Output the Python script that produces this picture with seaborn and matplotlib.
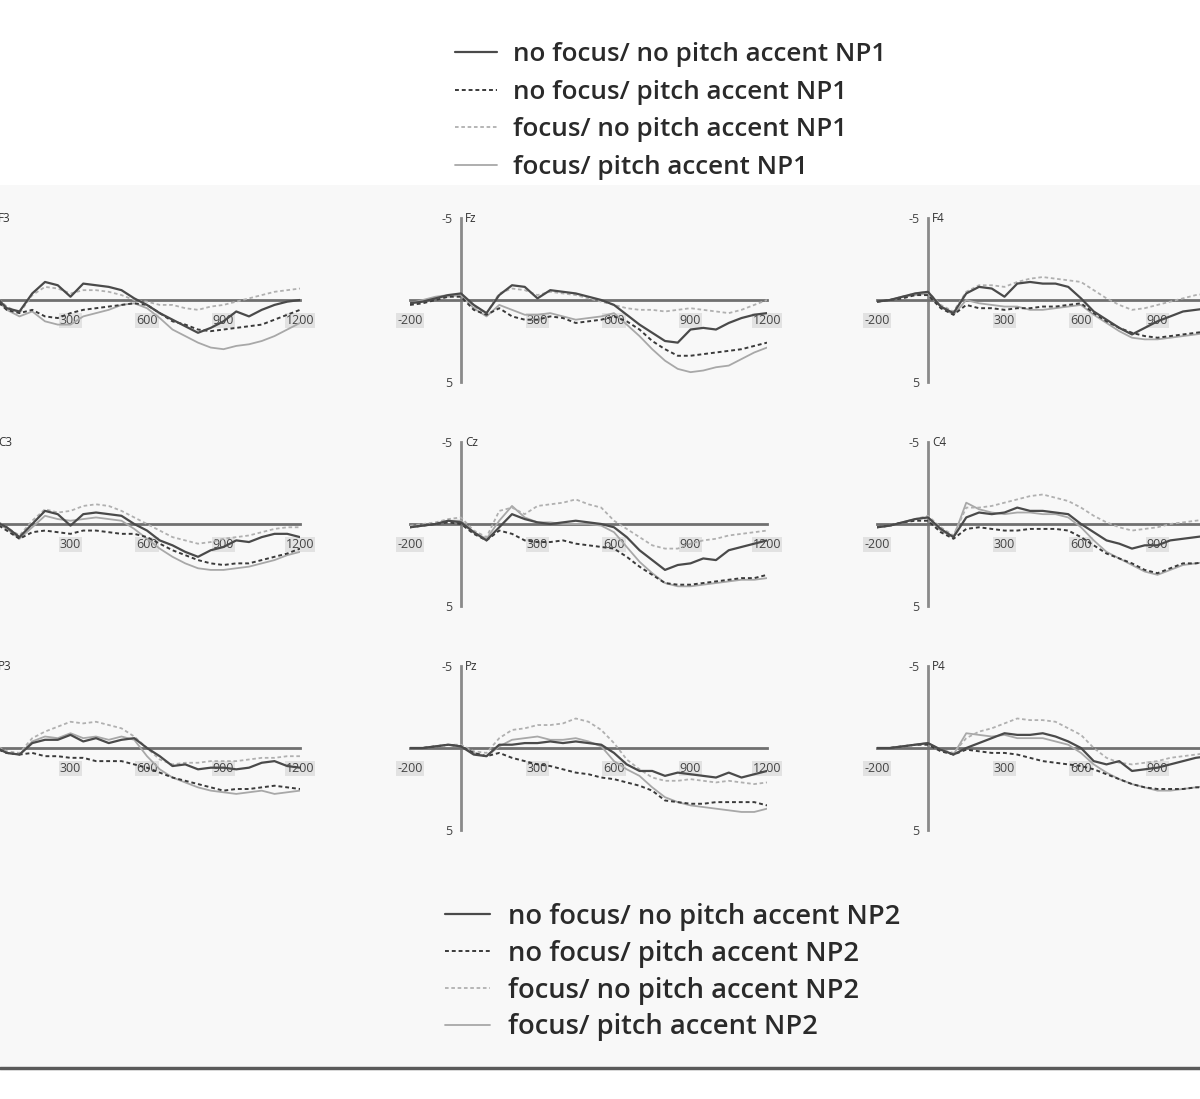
import numpy as np
import pandas as pd
import matplotlib
matplotlib.use("Agg")
import matplotlib.pyplot as plt
from matplotlib.lines import Line2D
from matplotlib.patches import Rectangle
import seaborn as sns

sns.set_theme(style="white")
plt.rcParams['font.family'] = ['Open Sans', 'DejaVu Sans']

# ---------------- data ----------------
times = [-200, -150, -100, -50, 0, 50, 100, 150, 200, 250, 300, 350, 400, 450,
         500, 550, 600, 650, 700, 750, 800, 850, 900, 950, 1000, 1050, 1100, 1150, 1200]

conditions = ["no focus/ no pitch accent", "no focus/ pitch accent",
              "focus/ no pitch accent", "focus/ pitch accent"]

electrodes = ["F3", "Fz", "F4", "C3", "Cz", "C4", "P3", "Pz", "P4"]

F3_s1 = [0.1,0.0,-0.1,-0.2,-0.3,0.5,0.7,-0.4,-1.1,-0.9,-0.2,-1.0,-0.9,-0.8,-0.6,-0.1,0.3,0.8,1.2,1.6,2.0,1.7,1.3,0.7,1.0,0.6,0.3,0.1,0.0]
F3_s2 = [0.2,0.1,0.0,-0.1,-0.1,0.6,0.8,0.6,1.0,1.1,0.8,0.6,0.5,0.4,0.3,0.2,0.3,0.8,1.3,1.5,1.8,1.9,1.8,1.7,1.6,1.5,1.2,0.9,0.6]
F3_s3 = [0.1,0.0,-0.1,-0.2,-0.3,0.4,0.8,-0.3,-0.8,-0.7,-0.4,-0.6,-0.6,-0.5,-0.3,0.0,0.1,0.3,0.3,0.5,0.6,0.4,0.3,0.1,-0.1,-0.3,-0.5,-0.6,-0.7]
F3_s4 = [0.2,0.1,-0.1,-0.2,-0.2,0.6,1.0,0.7,1.3,1.5,1.5,1.0,0.8,0.6,0.3,0.2,0.5,1.1,1.8,2.2,2.6,2.9,3.0,2.8,2.7,2.5,2.2,1.8,1.4]

Fz_s1 = [0.2,0.1,-0.1,-0.3,-0.4,0.3,0.8,-0.3,-0.9,-0.8,-0.1,-0.6,-0.5,-0.4,-0.2,0.0,0.3,0.9,1.5,2.0,2.5,2.6,1.8,1.7,1.8,1.4,1.1,0.9,0.8]
Fz_s2 = [0.3,0.2,0.0,-0.2,-0.2,0.6,0.9,0.5,1.0,1.2,1.2,1.0,1.1,1.4,1.3,1.2,1.0,1.3,1.8,2.5,3.0,3.4,3.4,3.3,3.2,3.1,3.0,2.8,2.6]
Fz_s3 = [0.2,0.1,-0.1,-0.2,-0.3,0.4,0.8,-0.4,-0.7,-0.6,-0.3,-0.5,-0.4,-0.3,-0.1,0.1,0.3,0.5,0.6,0.6,0.7,0.6,0.5,0.6,0.7,0.8,0.6,0.3,0.0]
Fz_s4 = [0.2,0.0,-0.2,-0.3,-0.3,0.5,1.0,0.3,0.6,0.9,0.9,0.8,1.0,1.2,1.1,1.0,0.8,1.5,2.2,3.0,3.7,4.2,4.4,4.3,4.1,4.0,3.6,3.2,2.9]

F4_s1 = [0.1,0.0,-0.2,-0.4,-0.5,0.4,0.8,-0.4,-0.8,-0.7,-0.2,-1.0,-1.1,-1.0,-1.0,-0.8,-0.1,0.7,1.2,1.7,2.1,1.7,1.3,1.0,0.7,0.6,0.5,0.4,0.3]
F4_s2 = [0.1,0.0,-0.1,-0.3,-0.3,0.5,0.9,0.3,0.5,0.5,0.6,0.5,0.5,0.4,0.4,0.3,0.2,0.8,1.3,1.7,2.0,2.2,2.3,2.2,2.1,2.0,1.9,1.8,1.7]
F4_s3 = [0.1,0.0,-0.2,-0.4,-0.5,0.3,0.7,-0.5,-0.9,-0.9,-0.8,-1.1,-1.3,-1.4,-1.3,-1.2,-1.1,-0.6,-0.1,0.3,0.6,0.5,0.3,0.1,-0.1,-0.3,-0.4,-0.5,-0.5]
F4_s4 = [0.1,0.0,-0.2,-0.3,-0.4,0.4,0.9,0.0,0.2,0.3,0.4,0.4,0.6,0.6,0.5,0.4,0.3,0.9,1.4,1.9,2.3,2.4,2.4,2.3,2.2,2.1,2.0,1.9,1.8]

C3_s1 = [0.1,0.0,-0.1,-0.2,-0.2,0.2,0.8,0.0,-0.8,-0.6,0.1,-0.6,-0.7,-0.6,-0.5,0.0,0.4,1.0,1.3,1.7,2.0,1.6,1.4,1.0,1.1,0.8,0.6,0.6,0.8]
C3_s2 = [0.1,0.0,0.0,-0.1,-0.1,0.4,0.9,0.5,0.4,0.5,0.6,0.4,0.4,0.5,0.6,0.6,0.8,1.2,1.6,1.9,2.2,2.4,2.5,2.4,2.4,2.2,2.0,1.8,1.5]
C3_s3 = [0.1,0.0,-0.1,-0.2,-0.3,0.2,0.7,-0.2,-0.9,-0.7,-0.8,-1.1,-1.2,-1.1,-0.8,-0.4,0.0,0.4,0.8,1.0,1.2,1.1,0.9,0.8,0.7,0.5,0.3,0.2,0.2]
C3_s4 = [0.1,0.0,-0.1,-0.2,-0.2,0.3,0.9,0.2,-0.5,-0.3,-0.2,-0.3,-0.4,-0.3,-0.2,0.3,0.9,1.5,2.0,2.4,2.7,2.8,2.8,2.7,2.6,2.4,2.2,1.9,1.7]

Cz_s1 = [0.2,0.1,0.0,-0.2,-0.1,0.5,1.0,0.2,-0.6,-0.3,-0.1,0.0,-0.1,-0.2,-0.1,0.0,0.2,0.8,1.6,2.2,2.8,2.5,2.4,2.1,2.2,1.6,1.4,1.2,1.0]
Cz_s2 = [0.2,0.1,0.0,-0.1,0.0,0.6,1.0,0.4,0.6,1.0,1.1,1.1,1.0,1.2,1.3,1.4,1.5,2.0,2.6,3.1,3.6,3.7,3.7,3.6,3.5,3.4,3.3,3.3,3.1]
Cz_s3 = [0.1,0.0,-0.1,-0.3,-0.4,0.4,0.8,-0.8,-1.0,-0.6,-1.1,-1.2,-1.3,-1.5,-1.2,-1.0,-0.2,0.3,0.8,1.3,1.5,1.5,1.2,1.0,0.9,0.7,0.6,0.5,0.4]
Cz_s4 = [0.2,0.1,0.0,-0.2,-0.2,0.5,0.9,-0.2,-1.1,-0.4,-0.1,-0.1,0.0,0.0,0.0,0.1,0.5,1.4,2.3,3.0,3.6,3.8,3.8,3.7,3.6,3.5,3.4,3.4,3.3]

C4_s1 = [0.2,0.1,-0.1,-0.3,-0.4,0.3,0.8,-0.4,-0.7,-0.6,-0.7,-1.0,-0.8,-0.8,-0.7,-0.6,0.0,0.5,1.0,1.2,1.5,1.3,1.3,1.0,0.9,0.8,0.7,0.6,0.6]
C4_s2 = [0.2,0.1,-0.1,-0.2,-0.2,0.5,0.9,0.3,0.2,0.3,0.4,0.4,0.3,0.3,0.3,0.4,0.8,1.3,1.8,2.1,2.4,2.8,3.0,2.7,2.4,2.4,2.3,2.2,2.1]
C4_s3 = [0.2,0.1,-0.1,-0.3,-0.5,0.2,0.7,-1.0,-1.0,-1.1,-1.3,-1.5,-1.7,-1.8,-1.6,-1.4,-1.0,-0.5,-0.1,0.2,0.4,0.3,0.2,0.0,-0.1,-0.2,-0.3,-0.3,-0.3]
C4_s4 = [0.2,0.1,-0.1,-0.3,-0.4,0.4,0.8,-1.3,-0.9,-0.7,-0.6,-0.7,-0.7,-0.6,-0.6,-0.4,0.2,1.0,1.7,2.1,2.5,2.9,3.1,2.8,2.5,2.4,2.3,2.2,2.1]

P3_s1 = [0.0,0.0,-0.1,-0.2,-0.1,0.3,0.4,-0.3,-0.5,-0.5,-0.8,-0.4,-0.6,-0.3,-0.5,-0.6,0.0,0.5,1.1,1.0,1.3,1.2,1.2,1.3,1.2,0.9,0.8,1.1,1.2]
P3_s2 = [0.0,0.0,-0.1,-0.1,0.0,0.3,0.4,0.3,0.5,0.5,0.6,0.6,0.8,0.8,0.8,1.0,1.2,1.5,1.8,2.0,2.2,2.4,2.6,2.5,2.5,2.4,2.3,2.4,2.5]
P3_s3 = [0.0,0.0,-0.1,-0.2,-0.2,0.2,0.3,-0.6,-1.0,-1.3,-1.6,-1.5,-1.6,-1.4,-1.2,-0.7,0.0,0.7,1.0,0.9,0.9,0.8,0.8,0.8,0.7,0.6,0.6,0.5,0.5]
P3_s4 = [0.0,0.0,-0.1,-0.2,-0.1,0.3,0.4,-0.4,-0.7,-0.6,-0.9,-0.6,-0.7,-0.5,-0.7,-0.5,0.5,1.3,1.8,2.1,2.4,2.6,2.7,2.8,2.7,2.6,2.8,2.7,2.6]

Pz_s1 = [0.0,0.0,-0.1,-0.2,-0.1,0.4,0.5,-0.2,-0.2,-0.3,-0.3,-0.4,-0.3,-0.4,-0.3,-0.2,0.3,1.0,1.4,1.4,1.7,1.5,1.6,1.7,1.8,1.5,1.8,1.6,1.4]
Pz_s2 = [0.0,0.0,-0.1,-0.2,-0.1,0.3,0.5,0.3,0.6,0.8,1.0,1.1,1.3,1.5,1.6,1.8,1.9,2.1,2.3,2.6,3.2,3.3,3.4,3.4,3.3,3.3,3.3,3.3,3.5]
Pz_s3 = [0.0,0.0,-0.1,-0.2,-0.2,0.2,0.3,-0.6,-1.1,-1.2,-1.4,-1.4,-1.5,-1.8,-1.6,-1.1,-0.3,0.7,1.3,1.8,2.0,2.0,1.9,2.0,2.1,2.0,2.1,2.2,2.1]
Pz_s4 = [0.0,0.0,-0.1,-0.2,-0.1,0.3,0.5,-0.1,-0.5,-0.6,-0.7,-0.5,-0.5,-0.6,-0.4,-0.1,0.8,1.3,1.7,2.4,3.0,3.3,3.5,3.6,3.7,3.8,3.9,3.9,3.7]

P4_s1 = [0.0,0.0,-0.1,-0.2,-0.3,0.1,0.4,0.0,-0.3,-0.6,-0.9,-0.8,-0.8,-0.9,-0.7,-0.4,0.0,0.8,1.0,0.8,1.4,1.3,1.2,1.0,0.8,0.6,0.5,0.5,0.4]
P4_s2 = [0.0,0.0,-0.1,-0.2,-0.2,0.2,0.4,0.1,0.2,0.3,0.3,0.4,0.6,0.8,0.9,1.0,1.1,1.3,1.6,1.9,2.2,2.4,2.5,2.5,2.5,2.4,2.4,2.3,2.3]
P4_s3 = [0.0,0.0,-0.1,-0.2,-0.3,0.1,0.3,-0.6,-1.0,-1.2,-1.5,-1.8,-1.7,-1.7,-1.6,-1.2,-0.8,0.0,0.6,0.9,1.0,0.9,0.8,0.6,0.5,0.4,0.3,0.3,0.2]
P4_s4 = [0.0,0.0,-0.1,-0.2,-0.3,0.1,0.4,-0.9,-0.8,-0.7,-0.8,-0.6,-0.6,-0.6,-0.4,-0.2,0.3,1.0,1.5,1.9,2.2,2.4,2.6,2.6,2.5,2.4,2.3,2.3,2.2]

xticks = [-200, 300, 600, 900, 1200]
yticks = [-5, 5]

series = {
    "F3": [F3_s1, F3_s2, F3_s3, F3_s4], "Fz": [Fz_s1, Fz_s2, Fz_s3, Fz_s4],
    "F4": [F4_s1, F4_s2, F4_s3, F4_s4], "C3": [C3_s1, C3_s2, C3_s3, C3_s4],
    "Cz": [Cz_s1, Cz_s2, Cz_s3, Cz_s4], "C4": [C4_s1, C4_s2, C4_s3, C4_s4],
    "P3": [P3_s1, P3_s2, P3_s3, P3_s4], "Pz": [Pz_s1, Pz_s2, Pz_s3, Pz_s4],
    "P4": [P4_s1, P4_s2, P4_s3, P4_s4],
}

# ---------------- styles ----------------
palette = {conditions[0]: "#4a4a4a", conditions[1]: "#3a3a3a",
           conditions[2]: "#b0b0b0", conditions[3]: "#a8a8a8"}
dashes = {conditions[0]: "", conditions[1]: (2, 1.5),
          conditions[2]: (2, 1.5), conditions[3]: ""}
widths = {conditions[0]: 1.6, conditions[1]: 1.4, conditions[2]: 1.3, conditions[3]: 1.3}

W, H = 1200, 1099
fig = plt.figure(figsize=(W / 100, H / 100), dpi=100)
fig.patch.set_facecolor("white")

# light panel background and bottom rule (drawn beneath the axes)
fig.patches.append(Rectangle((0, 1 - 1066 / H), 1, (1066 - 185) / H,
                             transform=fig.transFigure, facecolor="#f8f8f8",
                             edgecolor="none", zorder=-5))
fig.lines.append(Line2D([0, 1], [1 - 1068 / H] * 2, transform=fig.transFigure,
                        color="#5a5a5a", lw=2.5, zorder=-4))

col_x = [-57, 410, 877]      # pixel x of t=-200
row_y = [218, 442, 666]      # pixel y of -5 uV
pw, ph = 357, 164

for i, el in enumerate(electrodes):
    r, c = divmod(i, 3)
    x0, y0 = col_x[c], row_y[r]
    ax = fig.add_axes([x0 / W, 1 - (y0 + ph) / H, pw / W, ph / H])
    ax.set_facecolor("none")
    ax.set_zorder(1)
    df = pd.DataFrame({
        "time": times * 4,
        "amp": sum(series[el], []),
        "cond": sum([[cnd] * len(times) for cnd in conditions], []),
    })
    for cnd in conditions[::-1]:
        sub = df[df["cond"] == cnd]
        sns.lineplot(data=sub, x="time", y="amp", color=palette[cnd],
                     lw=widths[cnd], ax=ax, legend=False,
                     linestyle=(0, dashes[cnd]) if dashes[cnd] else "-")
    ax.set_xlim(-200, 1200)
    ax.set_ylim(5, -5)
    ax.set_xlabel("")
    ax.set_ylabel("")
    for s in ["top", "right"]:
        ax.spines[s].set_visible(False)
    ax.spines["left"].set_position(("data", 0))
    ax.spines["bottom"].set_position(("data", 0))
    ax.spines["left"].set_color("#8a8a8a")
    ax.spines["left"].set_linewidth(2.0)
    ax.spines["bottom"].set_color("#707070")
    ax.spines["bottom"].set_linewidth(2.0)
    ax.spines["left"].set_zorder(0.5)
    ax.spines["bottom"].set_zorder(0.5)
    ax.set_xticks(xticks)
    ax.set_xticklabels([str(t) for t in xticks])
    ax.set_yticks(yticks)
    ax.set_yticklabels([str(t) for t in yticks])
    ax.tick_params(axis="x", direction="inout", length=4, width=1,
                   color="#777777", pad=8, labelsize=9, labelcolor="#444444")
    ax.tick_params(axis="y", direction="out", length=3, width=1,
                   color="#777777", pad=3, labelsize=9, labelcolor="#444444")
    for lab in ax.get_xticklabels():
        lab.set_bbox(dict(facecolor="#e2e2e2", edgecolor="none", pad=0.6))
    # labels that fall entirely outside the canvas (the reference crops them away)
    if c == 0:
        ax.get_xticklabels()[0].set_visible(False)
        for lab in ax.get_yticklabels():
            lab.set_visible(False)
    if c == 2:
        ax.get_xticklabels()[-1].set_visible(False)
    ax.grid(False)
    ax.annotate(el, xy=(0, -5), xytext=(3, 0), textcoords="offset points",
                ha="left", va="center", fontsize=8.5, color="#333333")

def handles(np_label):
    hs = []
    for cnd in conditions:
        ls = (0, dashes[cnd]) if dashes[cnd] else "-"
        hs.append(Line2D([], [], color=palette[cnd], lw=widths[cnd], linestyle=ls,
                         label=f"{cnd} {np_label}"))
    return hs

leg_kw = dict(frameon=False, loc="upper left", borderpad=0, borderaxespad=0,
              labelcolor="#2a2a2a")
fig.legend(handles=handles("NP1"), bbox_to_anchor=(455 / W, 1 - 42 / H),
           prop=dict(family="Open Sans", weight="semibold", size=18.7),
           handlelength=1.6, handletextpad=0.62, labelspacing=0.49, **leg_kw)
fig.legend(handles=handles("NP2"), bbox_to_anchor=(445 / W, 1 - 903 / H),
           prop=dict(family="Open Sans", weight="semibold", size=19.7),
           handlelength=1.64, handletextpad=0.66, labelspacing=0.32, **leg_kw)

fig.savefig("out.png", dpi=100, facecolor="white")
